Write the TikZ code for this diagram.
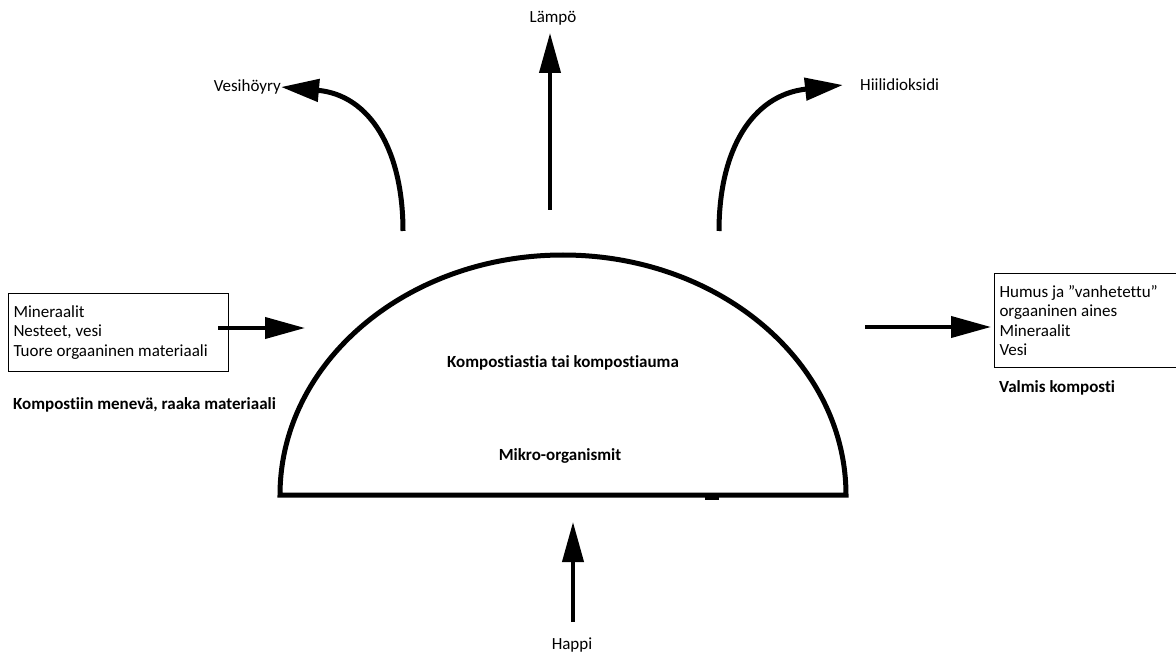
\documentclass[tikz,border=0pt]{standalone}
\usepackage{fontspec}
\setmainfont{Carlito}[Ligatures=NoCommon]
\usetikzlibrary{arrows.meta}
\begin{document}
\begin{tikzpicture}[x=1pt,y=-1pt,
  every node/.style={font=\fontsize{17}{19.5}\selectfont, inner sep=0pt},
  boldlbl/.style={font=\fontsize{17}{19.5}\selectfont\bfseries},
  inbox/.style={draw, line width=1pt, anchor=north west, align=flush left, inner xsep=5pt, inner ysep=0pt},
  flow/.style={line width=4pt, -{Triangle[length=40pt,width=21pt]}},
  curvedflow/.style={line width=5pt, -{Triangle[length=38pt,width=22pt]}},
  heap/.style={line width=5pt, line join=miter}
]
\useasboundingbox (0,0) rectangle (1176,655);

% compost heap
\draw[heap] (280,495) arc[start angle=180, end angle=360, x radius=283, y radius=240] -- cycle;
\fill (705,495) rectangle (719,500);

\node[boldlbl] (heaptitle) at (563,363) {Kompostiastia tai kompostiauma};
\node[boldlbl] (micro) at (560,456) {Mikro-organismit};

% input box
\node[inbox, minimum width=220pt, minimum height=78pt, text width=210pt] (inbox) at (8,293)
  {Mineraalit\\Nesteet, vesi\\Tuore orgaaninen materiaali};
\node[boldlbl, anchor=west] (inlabel) at (13,405) {Kompostiin menevä, raaka materiaali};

% output box
\node[inbox, minimum width=184pt, minimum height=94pt, text width=174pt] (outbox) at (994,273)
  {Humus ja ”vanhetettu”\\orgaaninen aines\\Mineraalit\\Vesi};
\node[boldlbl, anchor=west] (outlabel) at (999,388) {Valmis komposti};

% labels
\node (heat) at (553,18) {Lämpö};
\node[anchor=east] (vapour) at (281,87) {Vesihöyry};
\node[anchor=west] (co2) at (860,85) {Hiilidioksidi};
\node (oxygen) at (572,645) {Happi};

% connector end points
\coordinate (inS) at (218,328);
\coordinate (inE) at (305,328);
\coordinate (outS) at (865,327);
\coordinate (outE) at (991,327);
\coordinate (heatS) at (550,210);
\coordinate (heatE) at (550,33);
\coordinate (oxS) at (573,622);
\coordinate (oxE) at (573,522);
\coordinate (vapS) at (403,231);
\coordinate (co2S) at (719,231);

\draw[flow] (inS) -- (inE);
\draw[flow] (outS) -- (outE);
\draw[flow] (heatS) -- (heatE);
\draw[flow] (oxS) -- (oxE);
\draw[curvedflow] (vapS) .. controls (403,150) and (370,95) .. (vapour.east);
\draw[curvedflow] (co2S) .. controls (719,150) and (752,95) .. ([xshift=-17pt]co2.west);
\end{tikzpicture}
\end{document}
